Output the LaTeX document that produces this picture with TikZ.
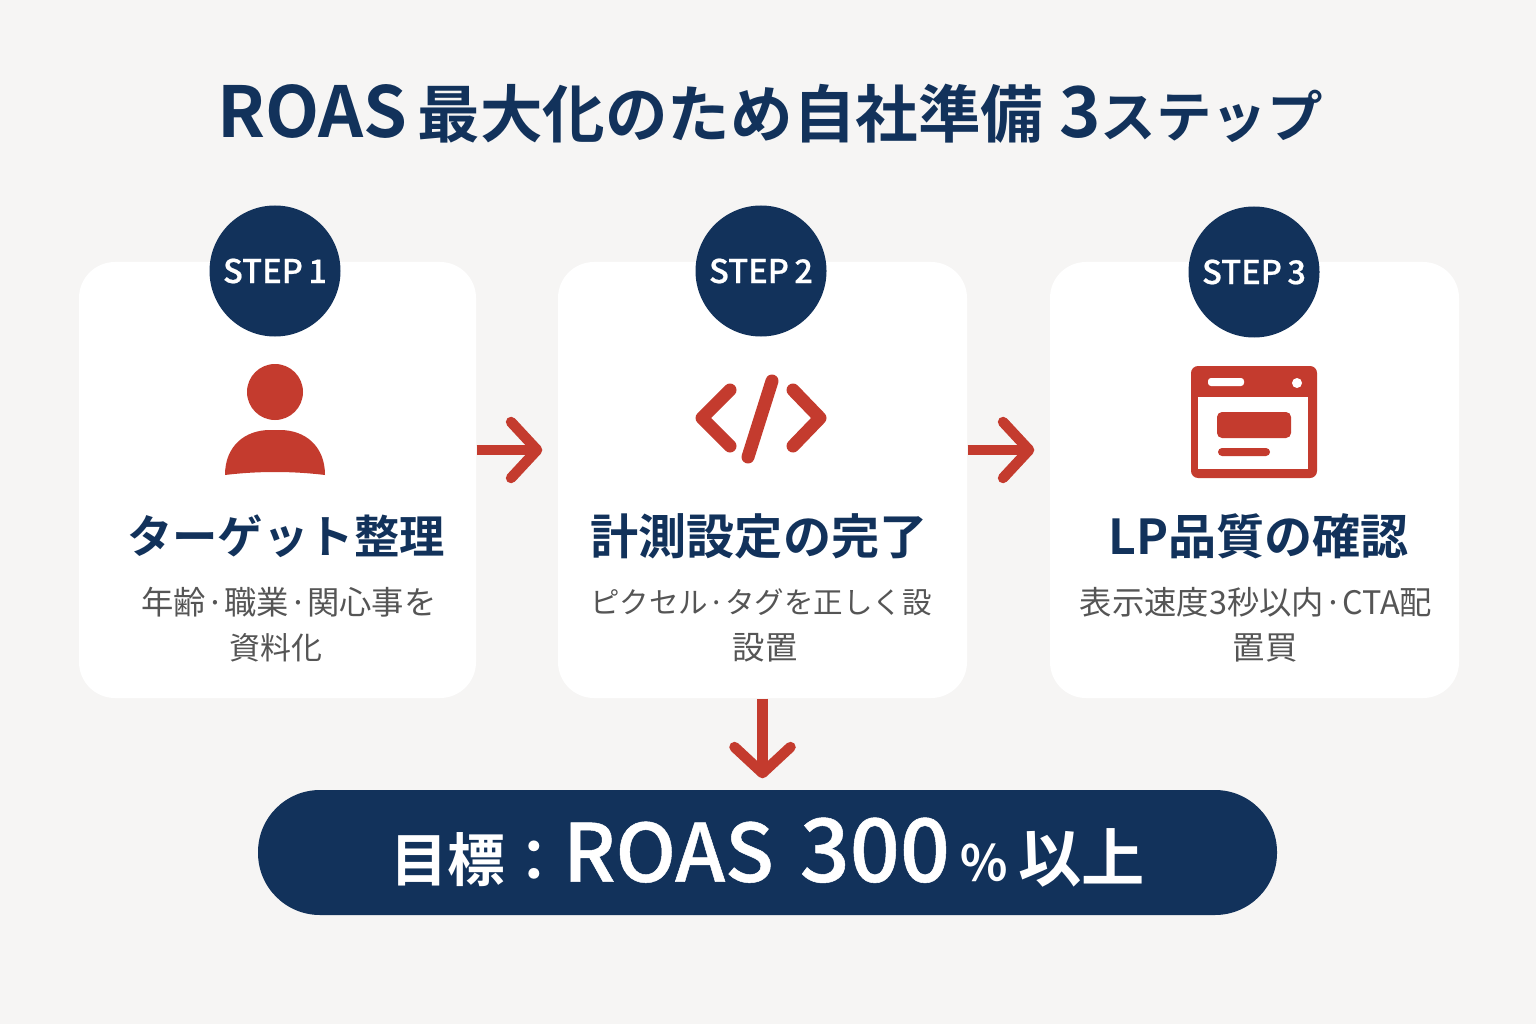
\documentclass[tikz,border=0pt]{standalone}
\usepackage{fontspec}
\usepackage{xcolor}
\usepackage{tikz}
\usetikzlibrary{arrows.meta}
\usetikzlibrary{shapes.misc}
\setmainfont{Noto Sans CJK JP}[BoldFont={Noto Sans CJK JP Bold}]
\newfontfamily\jpmedium{Noto Sans CJK JP Medium}[FakeBold=0.6]
\definecolor{navy}{HTML}{12325B}
\definecolor{brick}{HTML}{C43B2E}
\definecolor{paper}{HTML}{F6F5F4}
\definecolor{subgray}{HTML}{555555}
\tikzstyle{cardnode}=[draw=none, shape=rectangle, rounded corners=0.36cm, fill=white, inner sep=0pt]
\tikzstyle{stepnode}=[white, shape=circle, fill=navy, minimum size=13.1mm, inner sep=0pt, font=\jpmedium\fontsize{9.3pt}{12pt}\selectfont]
\tikzstyle{headnode}=[navy, inner sep=0pt, font=\bfseries\fontsize{13.7pt}{15pt}\selectfont]
\tikzstyle{subnode}=[subgray, inner sep=0pt, font=\fontsize{9.2pt}{11pt}\selectfont]
\tikzstyle{flowarrow}=[-{Straight Barb[length=2.6mm, width=5.6mm, round]}, line width=1.05mm, color=brick]
\tikzstyle{iconline}=[line width=1.3mm, color=brick, line cap=round, line join=round]
\begin{document}
\begin{tikzpicture}
\useasboundingbox (0,0) rectangle (15.36,10.24);
\fill[paper] (0,0) rectangle (15.36,10.24);

\node [navy, inner sep=0pt, font=\bfseries\fontsize{17.8pt}{20pt}\selectfont] (title) at (7.70,9.10) {{\fontsize{20pt}{20pt}\selectfont ROAS}\,最大化のため自社準備\hspace{1.6mm}{\fontsize{20pt}{20pt}\selectfont 3}{\fontsize{15.8pt}{20pt}\selectfont ステップ}};

\node [cardnode, minimum width=39.7mm, minimum height=43.6mm] (card1) at (2.775,5.44) {};
\node [cardnode, minimum width=40.9mm, minimum height=43.6mm] (card2) at (7.625,5.44) {};
\node [cardnode, minimum width=40.9mm, minimum height=43.6mm] (card3) at (12.545,5.44) {};

\node [stepnode] (step1) at (2.75,7.53) {STEP\,1};
\node [stepnode] (step2) at (7.61,7.53) {STEP\,2};
\node [stepnode] (step3) at (12.54,7.52) {STEP\,3};

% person
\node [shape=circle, fill=brick, minimum size=5.6mm, inner sep=0pt] (head) at (2.75,6.32) {};
\fill[brick] (2.25,5.49) .. controls (2.25,5.78) and (2.45,5.94) .. (2.70,5.94) -- (2.80,5.94) .. controls (3.05,5.94) and (3.25,5.78) .. (3.25,5.49) .. controls (2.92,5.53) and (2.58,5.53) .. cycle;

% code
\draw[iconline] (7.30,6.34) -- (7.02,6.06) -- (7.30,5.78);
\draw[iconline] (7.93,6.34) -- (8.20,6.06) -- (7.93,5.78);
\draw[iconline] (7.72,6.43) -- (7.48,5.67);

% browser
\fill[brick, rounded corners=0.07cm] (11.91,5.46) rectangle (13.17,6.58);
\fill[white] (11.98,5.55) rectangle (13.08,6.27);
\fill[white, rounded corners=0.03cm] (12.08,6.38) rectangle (12.44,6.46);
\fill[white] (12.97,6.41) circle (0.05);
\fill[brick, rounded corners=0.05cm] (12.17,5.86) rectangle (12.91,6.12);
\fill[brick, rounded corners=0.04cm] (12.18,5.68) rectangle (12.70,5.76);

\node [headnode, font=\bfseries\fontsize{12.9pt}{15pt}\selectfont] (head1) at (2.86,4.88) {ターゲット整理};
\node [headnode] (head2) at (7.59,4.88) {計測設定の完了};
\node [headnode] (head3) at (12.585,4.88) {LP品質の確認};

\node [subnode] (sub1a) at (2.89,4.22) {年齢·職業·関心事を};
\node [subnode, font=\fontsize{8.8pt}{11pt}\selectfont] (sub1b) at (2.76,3.76) {資料化};
\node [subnode, font=\fontsize{8.4pt}{11pt}\selectfont] (sub2a) at (7.61,4.22) {ピクセル·タグを正しく設};
\node [subnode] (sub2b) at (7.65,3.76) {設置};
\node [subnode] (sub3a) at (12.56,4.22) {表示速度3秒以内·CTA配};
\node [subnode] (sub3b) at (12.65,3.76) {置買};

\node [white, shape=rectangle, rounded corners=0.62cm, fill=navy, minimum width=101.9mm, minimum height=12.5mm, inner sep=0pt, font=\bfseries\fontsize{16.4pt}{18pt}\selectfont] (goal) at (7.675,1.715) {目標：{\jpmedium\mdseries\fontsize{22.8pt}{24pt}\selectfont ROAS\hspace{2.6mm}{\fontsize{25pt}{24pt}\selectfont 300}}\,{\fontsize{14pt}{16pt}\selectfont ％}\,{\fontsize{18pt}{18pt}\selectfont 以上}};

\draw[flowarrow, shorten >=1.5mm] ([yshift=3mm]card1.east) -- ([yshift=3mm]card2.west);
\draw[flowarrow, shorten >=1.5mm] ([yshift=3mm]card2.east) -- ([yshift=3mm]card3.west);
\draw[flowarrow, shorten >=1.1mm] (card2.south) -- (card2.south |- goal.north);
\end{tikzpicture}
\end{document}
